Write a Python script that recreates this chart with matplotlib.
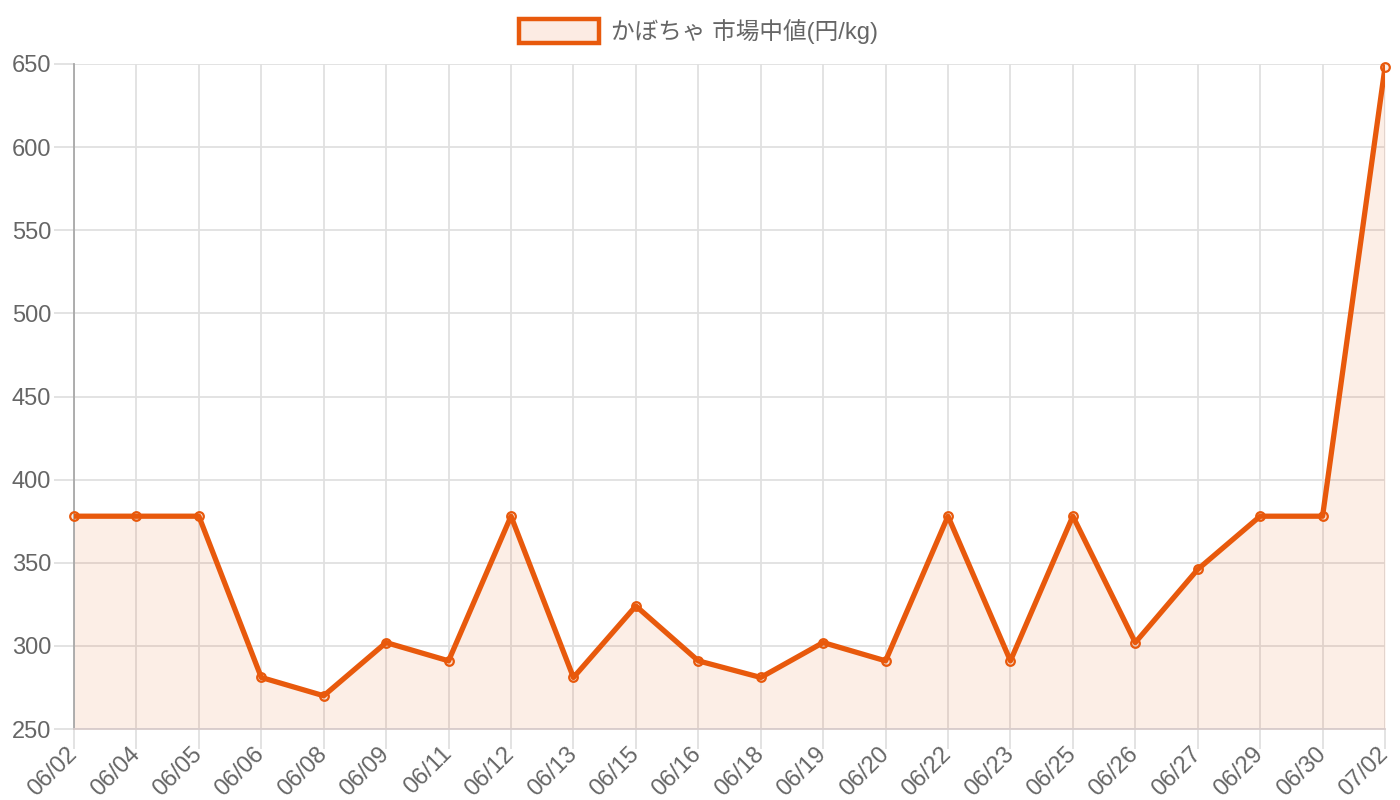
import matplotlib
matplotlib.use("Agg")
import matplotlib.pyplot as plt
from matplotlib.patches import Rectangle

dates = ["06/02", "06/04", "06/05", "06/06", "06/08", "06/09", "06/11", "06/12",
         "06/13", "06/15", "06/16", "06/18", "06/19", "06/20", "06/22", "06/23",
         "06/25", "06/26", "06/27", "06/29", "06/30", "07/02"]
prices = [378, 378, 378, 281, 270, 302, 291, 378,
          281, 324, 291, 281, 302, 291, 378, 291,
          378, 302, 346, 378, 378, 648]
y_ticks = [250, 300, 350, 400, 450, 500, 550, 600, 650]
series_label = "かぼちゃ 市場中値(円/kg)"

LINE = "#e8590c"
FILL = (232 / 255, 89 / 255, 12 / 255, 0.1)
GRID = "#e0e0e0"
TEXT = "#666666"
FONT = ["Liberation Sans", "Noto Sans CJK JP"]
FS = 17

plt.rcParams["font.family"] = FONT

fig = plt.figure(figsize=(14, 8), dpi=100)
ax = fig.add_axes([74 / 1400, 1 - 729 / 800, (1385 - 74) / 1400, (729 - 64) / 800])

x = list(range(len(dates)))
ax.fill_between(x, prices, 250, color=FILL, linewidth=0, zorder=2)
ax.plot(x, prices, color=LINE, linewidth=3.8, zorder=3)
ax.plot(x, prices, linestyle="none", marker="o", markersize=6.2,
        markerfacecolor=FILL, markeredgecolor=LINE, markeredgewidth=1.6,
        zorder=4, clip_on=False)

ax.set_xlim(0, len(dates) - 1)
ax.set_ylim(250, 650)
ax.set_xticks(x)
ax.set_xticklabels(dates, rotation=45, ha="right", va="center",
                   rotation_mode="anchor")
ax.set_yticks(y_ticks)

ax.grid(True, color=GRID, linewidth=1.3, zorder=1)
ax.set_axisbelow(True)
ax.tick_params(axis="both", length=14.5, width=1.3, color=GRID, labelcolor=TEXT,
               labelsize=FS, pad=2)
ax.tick_params(axis="x", pad=1)

for side in ["top", "right"]:
    ax.spines[side].set_visible(False)
ax.spines["left"].set_color("#a8a8a8")
ax.spines["left"].set_linewidth(1.3)
ax.spines["bottom"].set_color("#d8cccc")
ax.spines["bottom"].set_linewidth(1.3)

# legend drawn by hand to match the boxed swatch
fig.patches.append(Rectangle((519 / 1400, 1 - 43 / 800), 80 / 1400, 24 / 800,
                             transform=fig.transFigure, facecolor="#fcebe3",
                             edgecolor=LINE, linewidth=3.2))
fig.text(611 / 1400, 1 - 32 / 800, series_label, color=TEXT, fontsize=FS,
         va="center", ha="left")

fig.savefig("out.png", dpi=100)
